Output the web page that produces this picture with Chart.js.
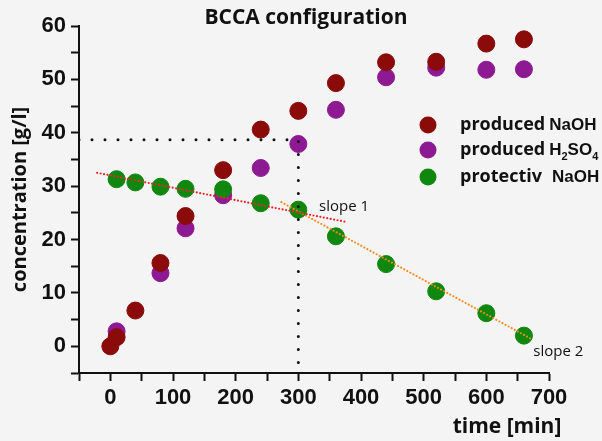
<!DOCTYPE html>
<html>
<head>
<meta charset="utf-8">
<script src="https://cdn.jsdelivr.net/npm/chart.js@4"></script>
<style>
  body { margin: 0; background: #f4f4f4; }
  #wrap { width: 602px; height: 441px; }
</style>
</head>
<body>
<div id="wrap"><canvas id="chart" width="602" height="441"></canvas></div>
<script>
// Sampling times [min]
const times = [0, 10, 40, 80, 120, 180, 240, 300, 360, 440, 520, 600, 660];

// Concentrations [g/l] (null = not visible)
const producedNaOH = [0, 1.7, 6.7, 15.6, 24.4, 33.0, 40.6, 44.1, 49.3, 53.2, 53.3, 56.7, 57.5];
const producedH2SO4 = [null, 2.8, null, 13.7, 22.1, 28.3, 33.4, 37.9, 44.3, 50.4, 52.2, 51.8, 51.9];
const protectiveNaOH = [null, 31.3, 30.7, 29.9, 29.5, 29.4, 26.8, 25.6, 20.6, 15.4, 10.3, 6.2, 2.0];

// Fitted trend lines (start / end)
const slope1X = [-21, 376];
const slope1Y = [32.5, 23.3];
const slope2X = [273, 673];
const slope2Y = [27.0, 1.3];

// Guide line at 300 min
const guideX = [-50, 300, 300];
const guideY = [38.7, 38.7, -5];

const colors = {
	naoh: '#8b0a0a',
	h2so4: '#8e1a93',
	prot: '#10880f',
};

function points(xs, ys) {
	return xs.map((x, i) => ({ x: x, y: ys[i] })).filter(p => p.y !== null);
}

function lineSet(xs, ys, color, width, dash) {
	return {
		type: 'line',
		data: points(xs, ys),
		borderColor: color,
		borderWidth: width,
		borderDash: dash,
		borderCapStyle: 'round',
		pointRadius: 0,
		fill: false,
		order: 0,
	};
}

function dotSet(label, ys, color, order) {
	return {
		label: label,
		data: points(times, ys),
		backgroundColor: color,
		borderColor: color,
		pointRadius: 8.5,
		pointHoverRadius: 8.5,
		order: order,
	};
}

// Background fill
const background = {
	id: 'background',
	beforeDraw(chart) {
		const ctx = chart.ctx;
		ctx.save();
		ctx.fillStyle = '#f4f4f4';
		ctx.fillRect(0, 0, chart.width, chart.height);
		ctx.restore();
	}
};

// Title, x title, legend and slope notes
const notes = {
	id: 'notes',
	afterDraw(chart) {
		const ctx = chart.ctx;
		const xs = chart.scales.x, ys = chart.scales.y;
		ctx.save();
		ctx.fillStyle = '#111';
		ctx.textBaseline = 'middle';

		// title
		ctx.font = 'bold 21px "Open Sans"';
		ctx.textAlign = 'center';
		ctx.fillText('BCCA configuration', 306, 18);

		// x axis title
		ctx.font = 'bold 21px "Open Sans"';
		ctx.fillText('time [min]', 507, 427);

		// slope labels
		ctx.textAlign = 'left';
		ctx.font = '15px "Open Sans"';
		ctx.fillText('slope 1', xs.getPixelForValue(333), ys.getPixelForValue(26.1));
		ctx.fillText('slope 2', xs.getPixelForValue(675), ys.getPixelForValue(-1.1));

		// legend
		const rows = [
			{ color: colors.naoh, word: 'produced', y: 125 },
			{ color: colors.h2so4, word: 'produced', y: 150 },
			{ color: colors.prot, word: 'protectiv', y: 177 },
		];
		rows.forEach((r, i) => {
			ctx.fillStyle = r.color;
			ctx.beginPath();
			ctx.arc(428, r.y, 8.5, 0, Math.PI * 2);
			ctx.fill();

			ctx.fillStyle = '#111';
			ctx.font = 'bold 18px "Open Sans"';
			ctx.fillText(r.word, 460, r.y);
			let x = i === 2 ? 552 : 460 + ctx.measureText(r.word).width + 4;
			ctx.font = 'bold 17px "Liberation Sans"';
			if (i === 1) {
				ctx.fillText('H', x, r.y); x += ctx.measureText('H').width;
				ctx.font = 'bold 11px "Liberation Sans"';
				ctx.fillText('2', x, r.y + 7); x += ctx.measureText('2').width;
				ctx.font = 'bold 17px "Liberation Sans"';
				ctx.fillText('SO', x, r.y); x += ctx.measureText('SO').width;
				ctx.font = 'bold 11px "Liberation Sans"';
				ctx.fillText('4', x, r.y + 7);
			} else {
				ctx.fillText('NaOH', x, r.y);
			}
		});
		ctx.restore();
	}
};

const tickFont = { family: '"Liberation Sans"', weight: 'bold', size: 22 };
const titleFont = { family: '"Open Sans"', weight: 'bold', size: 20 };

const axisGrid = {
	drawOnChartArea: false,
	drawTicks: true,
	tickLength: 8,
	tickWidth: 2,
	tickColor: '#111',
};

window.onload = () => {
	new Chart(document.getElementById('chart'), {
		type: 'scatter',
		data: {
			datasets: [
				lineSet(guideX, guideY, '#111', 3, [0, 13]),
				lineSet(slope1X, slope1Y, '#e8262a', 2.2, [0, 3.5]),
				lineSet(slope2X, slope2Y, '#f58a1f', 2.2, [0, 3.5]),
				dotSet('protectiv NaOH', protectiveNaOH, colors.prot, 1),
				dotSet('produced NaOH', producedNaOH, colors.naoh, 2),
				dotSet('produced H2SO4', producedH2SO4, colors.h2so4, 3),
			]
		},
		options: {
			responsive: false,
			animation: false,
			layout: { padding: { top: 26, right: 53, left: 0, bottom: 0 } },
			plugins: {
				legend: { display: false },
				tooltip: { enabled: false },
			},
			scales: {
				x: {
					type: 'linear',
					min: -50,
					max: 700,
					afterFit: s => { s.height = 68; },
					border: { display: true, color: '#111', width: 2 },
					grid: axisGrid,
					ticks: {
						stepSize: 50,
						padding: 4,
						color: '#111',
						font: tickFont,
						maxRotation: 0,
						autoSkip: false,
						callback: v => (v % 100 === 0 ? v : ''),
					},
				},
				y: {
					min: -5,
					max: 60,
					afterFit: s => { s.width = 79; },
					border: { display: true, color: '#111', width: 2 },
					grid: axisGrid,
					ticks: {
						stepSize: 5,
						padding: 5,
						color: '#111',
						font: tickFont,
						autoSkip: false,
						callback: v => (v % 10 === 0 ? v : ''),
					},
					title: {
						display: true,
						text: 'concentration [g/l]',
						color: '#111',
						font: titleFont,
						padding: { top: 8, bottom: 0 },
					},
				},
			},
		},
		plugins: [background, notes],
	});
};
</script>
</body>
</html>
